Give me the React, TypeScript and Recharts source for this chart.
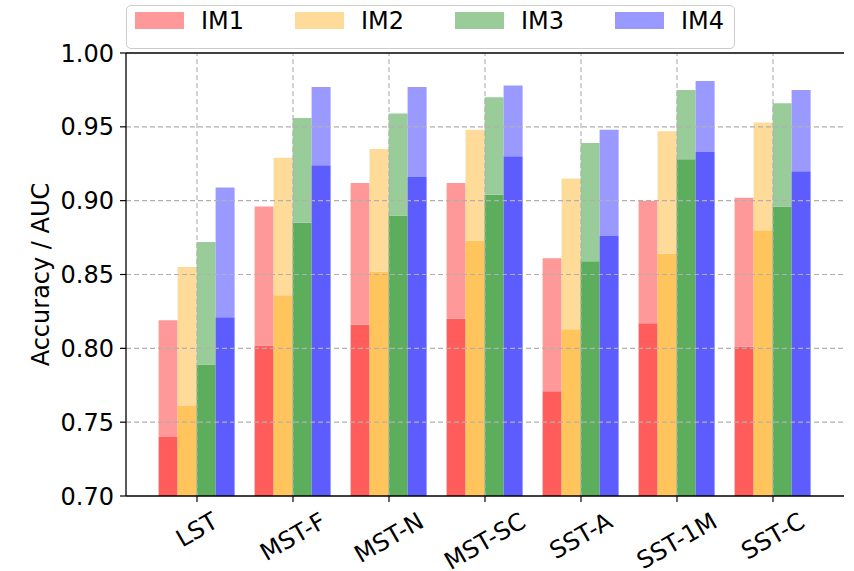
import React from 'react';
import { BarChart, Bar, XAxis, YAxis, ReferenceLine } from 'recharts';

const categories = ['LST', 'MST-F', 'MST-N', 'MST-SC', 'SST-A', 'SST-1M', 'SST-C'];
const seriesNames = ['IM1', 'IM2', 'IM3', 'IM4'];
const accIM1 = [0.740, 0.802, 0.816, 0.820, 0.771, 0.817, 0.801];
const aucIM1 = [0.819, 0.896, 0.912, 0.912, 0.861, 0.900, 0.902];
const accIM2 = [0.761, 0.836, 0.852, 0.873, 0.813, 0.864, 0.880];
const aucIM2 = [0.855, 0.929, 0.935, 0.948, 0.915, 0.947, 0.953];
const accIM3 = [0.789, 0.885, 0.890, 0.904, 0.859, 0.928, 0.896];
const aucIM3 = [0.872, 0.956, 0.959, 0.970, 0.939, 0.975, 0.966];
const accIM4 = [0.821, 0.924, 0.916, 0.930, 0.876, 0.933, 0.920];
const aucIM4 = [0.909, 0.977, 0.977, 0.978, 0.948, 0.981, 0.975];
const yTicks = [0.70, 0.75, 0.80, 0.85, 0.90, 0.95, 1.00];
const gridY = [0.75, 0.80, 0.85, 0.90, 0.95];

const darkColors = ['#FF5C5C', '#FFC55C', '#5CAE5C', '#5C5CFF'];
const lightColors = ['#FF9999', '#FFDB99', '#99CC99', '#9999FF'];

const accAll = [accIM1, accIM2, accIM3, accIM4];
const aucAll = [aucIM1, aucIM2, aucIM3, aucIM4];

const data = categories.map((c, i) => {
  const row: any = { name: c };
  for (let k = 0; k < 4; k++) {
    row['acc' + k] = accAll[k][i];
    row['gap' + k] = +(aucAll[k][i] - accAll[k][i]).toFixed(4);
  }
  return row;
});

const FONT = '"DejaVu Sans", sans-serif';
const FS = 24;

let ctx: CanvasRenderingContext2D | null = null;
function measure(t: string): number {
  if (!ctx) {
    const c = document.createElement('canvas');
    ctx = c.getContext('2d');
  }
  if (!ctx) return t.length * FS * 0.62;
  ctx.font = `${FS}px "DejaVu Sans"`;
  return ctx.measureText(t).width;
}

const XTick = (props: any) => {
  const { x, y, payload } = props;
  const t = String(payload.value);
  const w = measure(t);
  const h = FS * 1.164;
  const cy = y + 3 + (w * 0.5 + h * 0.866) / 2;
  return (
    <text
      x={x}
      y={cy}
      textAnchor="middle"
      dominantBaseline="central"
      transform={`rotate(-30, ${x}, ${cy})`}
      fontFamily={FONT}
      fontSize={FS}
      fill="#000"
    >
      {t}
    </text>
  );
};

const YLabel = () => (
  <text
    x={41}
    y={274.5}
    textAnchor="middle"
    dominantBaseline="central"
    transform="rotate(-90, 41, 274.5)"
    fontFamily={FONT}
    fontSize={FS}
    fill="#000"
  >
    Accuracy / AUC
  </text>
);

const gridStroke = '#b0b0b0';

export default function App() {
  return (
    <div style={{ position: 'absolute', left: 0, top: 0, width: 854, height: 571, background: '#fff' }}>
      <BarChart
        width={854}
        height={571}
        data={data}
        margin={{ top: 53, right: 10, bottom: 0, left: 0 }}
        barCategoryGap="10%"
        barGap={0}
      >
        <XAxis
          dataKey="name"
          height={75}
          padding={{ left: 23, right: 23 }}
          tick={<XTick />}
          tickSize={6}
          tickLine={{ stroke: '#000', strokeWidth: 1.2 }}
          axisLine={{ stroke: '#000', strokeWidth: 1.3 }}
          interval={0}
        />
        <YAxis
          width={126}
          domain={[0.7, 1.0]}
          allowDataOverflow
          ticks={yTicks}
          tickFormatter={(v: number) => v.toFixed(2)}
          tick={{ fontFamily: FONT, fontSize: FS, fill: '#000' }}
          tickSize={6}
          tickMargin={6}
          tickLine={{ stroke: '#000', strokeWidth: 1.2 }}
          axisLine={{ stroke: '#000', strokeWidth: 1.3 }}
          label={<YLabel />}
        />
        <YAxis
          yAxisId="right"
          orientation="right"
          width={0}
          domain={[0.7, 1.0]}
          allowDataOverflow
          tick={false}
          tickLine={false}
          axisLine={{ stroke: '#000', strokeWidth: 1.3 }}
        />
        {seriesNames.map((s, k) => [
          <Bar
            key={'acc' + k}
            dataKey={'acc' + k}
            stackId={'s' + k}
            fill={darkColors[k]}
            isAnimationActive={false}
          />,
          <Bar
            key={'gap' + k}
            dataKey={'gap' + k}
            stackId={'s' + k}
            fill={lightColors[k]}
            isAnimationActive={false}
          />,
        ])}
        {gridY.map((v) => (
          <ReferenceLine key={'gy' + v} y={v} stroke={gridStroke} strokeWidth={1.1} strokeDasharray="5 3" />
        ))}
        {categories.map((c) => (
          <ReferenceLine key={'gx' + c} x={c} stroke={gridStroke} strokeWidth={1.1} strokeDasharray="5 3" />
        ))}
        <ReferenceLine y={1.0} stroke="#000" strokeWidth={1.3} />
      </BarChart>
      <div
        style={{
          position: 'absolute',
          left: 126,
          top: 5,
          width: 609,
          height: 44,
          boxSizing: 'border-box',
          border: '1px solid #cccccc',
          borderRadius: 5,
          background: 'rgba(255,255,255,0.8)',
          fontFamily: FONT,
          fontSize: FS,
        }}
      >
        {seriesNames.map((s, k) => (
          <div key={s}>
            <div
              style={{
                position: 'absolute',
                left: 9 + 160 * k - 1,
                top: 12 - 6,
                width: 49,
                height: 17,
                background: lightColors[k],
              }}
            />
            <div
              style={{
                position: 'absolute',
                left: 9 + 160 * k + 49 + 19 - 1 - 2,
                top: 20.5 - 6 - 14,
                height: 28,
                lineHeight: '28px',
                color: '#000',
                whiteSpace: 'nowrap',
              }}
            >
              {s}
            </div>
          </div>
        ))}
      </div>
    </div>
  );
}
